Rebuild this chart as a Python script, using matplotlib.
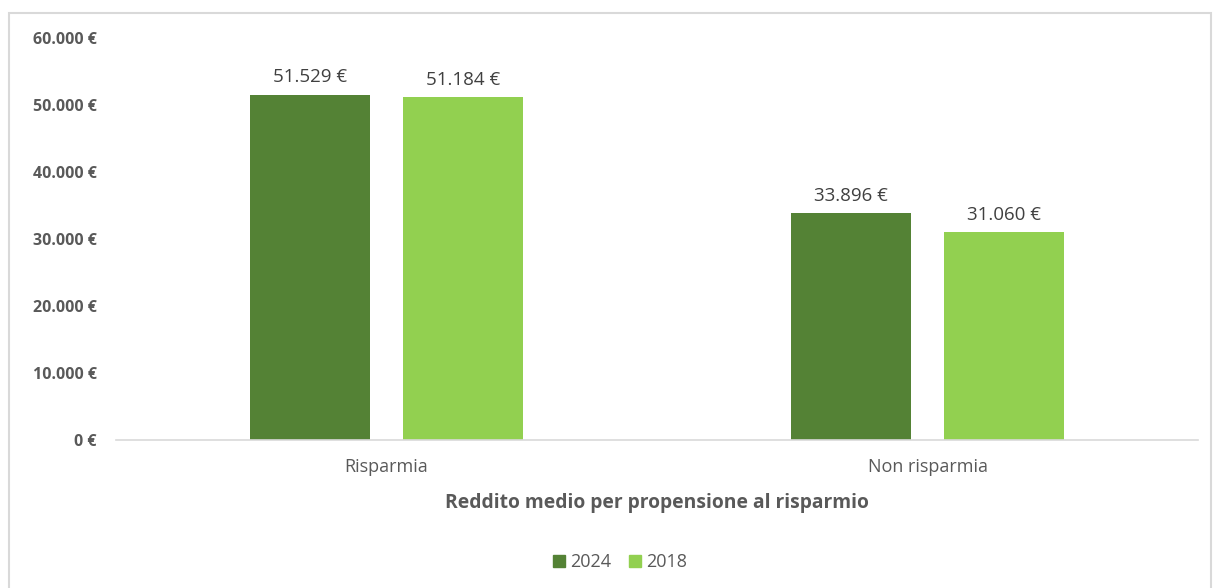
import matplotlib
matplotlib.use("Agg")
import matplotlib.pyplot as plt
from matplotlib.patches import Rectangle, Patch
from matplotlib.ticker import FuncFormatter

categories = ["Risparmia", "Non risparmia"]
series_names = ["2024", "2018"]
values_2024 = [51529, 33896]
values_2018 = [51184, 31060]
y_ticks = [0, 10000, 20000, 30000, 40000, 50000, 60000]

colors = ["#548235", "#92D050"]
text_dark = "#595959"
label_color = "#404040"

plt.rcParams["font.family"] = ["Open Sans", "DejaVu Sans"]

W, H = 1213, 588
fig = plt.figure(figsize=(W / 100, H / 100), dpi=100)

# outer chart frame
fig.patches.append(Rectangle((9 / W, -0.05), (1211 - 9) / W, 1 - 13 / H + 0.05,
                             transform=fig.transFigure, fill=False,
                             edgecolor="#D9D9D9", linewidth=1.5))

ax = fig.add_axes([116 / W, 1 - 440 / H, (1198 - 116) / W, (440 - 38) / H])

def euro(v, _=None):
    return f"{int(round(v)):,}".replace(",", ".") + " €"

x = list(range(len(categories)))
bw = 0.222
off = 0.142
b1 = ax.bar([i - off for i in x], values_2024, bw, color=colors[0], label=series_names[0])
b2 = ax.bar([i + off for i in x], values_2018, bw, color=colors[1], label=series_names[1])

for bars, vals in ((b1, values_2024), (b2, values_2018)):
    for rect, v in zip(bars, vals):
        ax.annotate(euro(v), (rect.get_x() + rect.get_width() / 2, v),
                    xytext=(0, 6), textcoords="offset points",
                    ha="center", va="bottom", fontsize=13.5, color=label_color)

ax.set_xlim(-0.5, 1.5)
ax.set_ylim(0, 60000)
ax.set_yticks(y_ticks)
ax.yaxis.set_major_formatter(FuncFormatter(euro))
ax.set_xticks(x)
ax.set_xticklabels(categories)

for s in ["top", "right", "left"]:
    ax.spines[s].set_visible(False)
ax.spines["bottom"].set_color("#D9D9D9")
ax.spines["bottom"].set_linewidth(1.2)

ax.tick_params(axis="y", length=0, pad=14, labelsize=11.5, labelcolor=text_dark)
ax.tick_params(axis="x", length=0, pad=13, labelsize=13, labelcolor=text_dark)
for t in ax.get_yticklabels():
    t.set_fontweight("bold")

fig.text(657 / W, 1 - 503 / H, "Reddito medio per propensione al risparmio",
         ha="center", va="center", fontsize=13.9, fontweight="bold", color=text_dark)

handles = [Patch(color=colors[0]), Patch(color=colors[1])]
fig.legend(handles, series_names, loc="center", bbox_to_anchor=(620 / W, 1 - 562 / H),
           ncol=2, frameon=False, fontsize=13, labelcolor=text_dark,
           handlelength=0.65, handleheight=0.65, handletextpad=0.3, columnspacing=1.0)

fig.savefig("out.png", dpi=100, facecolor="white")
